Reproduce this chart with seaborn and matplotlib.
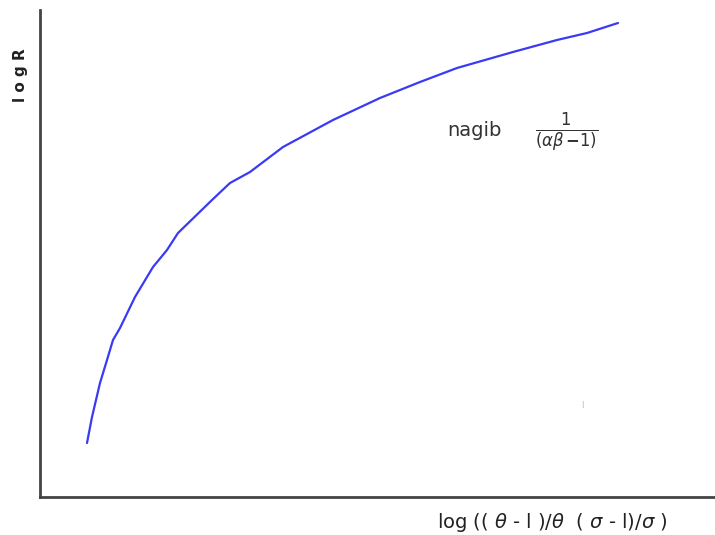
import pandas as pd
import seaborn as sns
import matplotlib.pyplot as plt

# curve (pixel offsets from the axes corner)
x_vals = [47, 52, 60, 67, 73, 80, 95, 107, 113, 127, 138, 172, 190, 210, 243, 293,
          340, 380, 417, 473, 517, 547, 578]
y_vals = [54, 80, 114, 137, 157, 169, 200, 220, 230, 247, 264, 297, 314, 325, 350, 377,
          399, 415, 429, 445, 457, 464, 474]

df = pd.DataFrame({'x': x_vals, 'y': y_vals})

sns.set_style('white')
fig = plt.figure(figsize=(7.15, 5.35), dpi=100)
ax = fig.add_axes([40 / 715, 38 / 535, 675 / 715, 487 / 535])

sns.lineplot(data=df, x='x', y='y', ax=ax, color='#3a3af5', linewidth=1.6)

ax.set_xlim(0, 675)
ax.set_ylim(0, 487)
ax.set_xticks([])
ax.set_yticks([])
ax.set_xlabel('')
ax.set_ylabel('')
for side in ['top', 'right']:
    ax.spines[side].set_visible(False)
for side in ['left', 'bottom']:
    ax.spines[side].set_color('#444444')
    ax.spines[side].set_linewidth(2)

fig.text(20 / 715, 1 - 75 / 535, 'l o g R', rotation=90, ha='center', va='center',
         fontsize=11, fontweight='bold', color='#222222')
fig.text(552 / 715, 1 - 523 / 535,
         r'log (( $\theta$ - l )/$\theta$  ( $\sigma$ - l)/$\sigma$ )',
         ha='center', va='center', fontsize=14, color='#222222')
fig.text(447 / 715, 1 - 131 / 535, 'nagib', ha='left', va='center', fontsize=14, color='#333333')
fig.text(567 / 715, 1 - 133 / 535, r'$\frac{1}{(\alpha\beta\,\mathbf{-}1)}$', ha='center',
         va='center', fontsize=17, color='#333333')
fig.text(582 / 715, 1 - 405 / 535, '|', ha='center', va='center', fontsize=5, color='#aaaaaa')

fig.savefig('out.png', dpi=100)
